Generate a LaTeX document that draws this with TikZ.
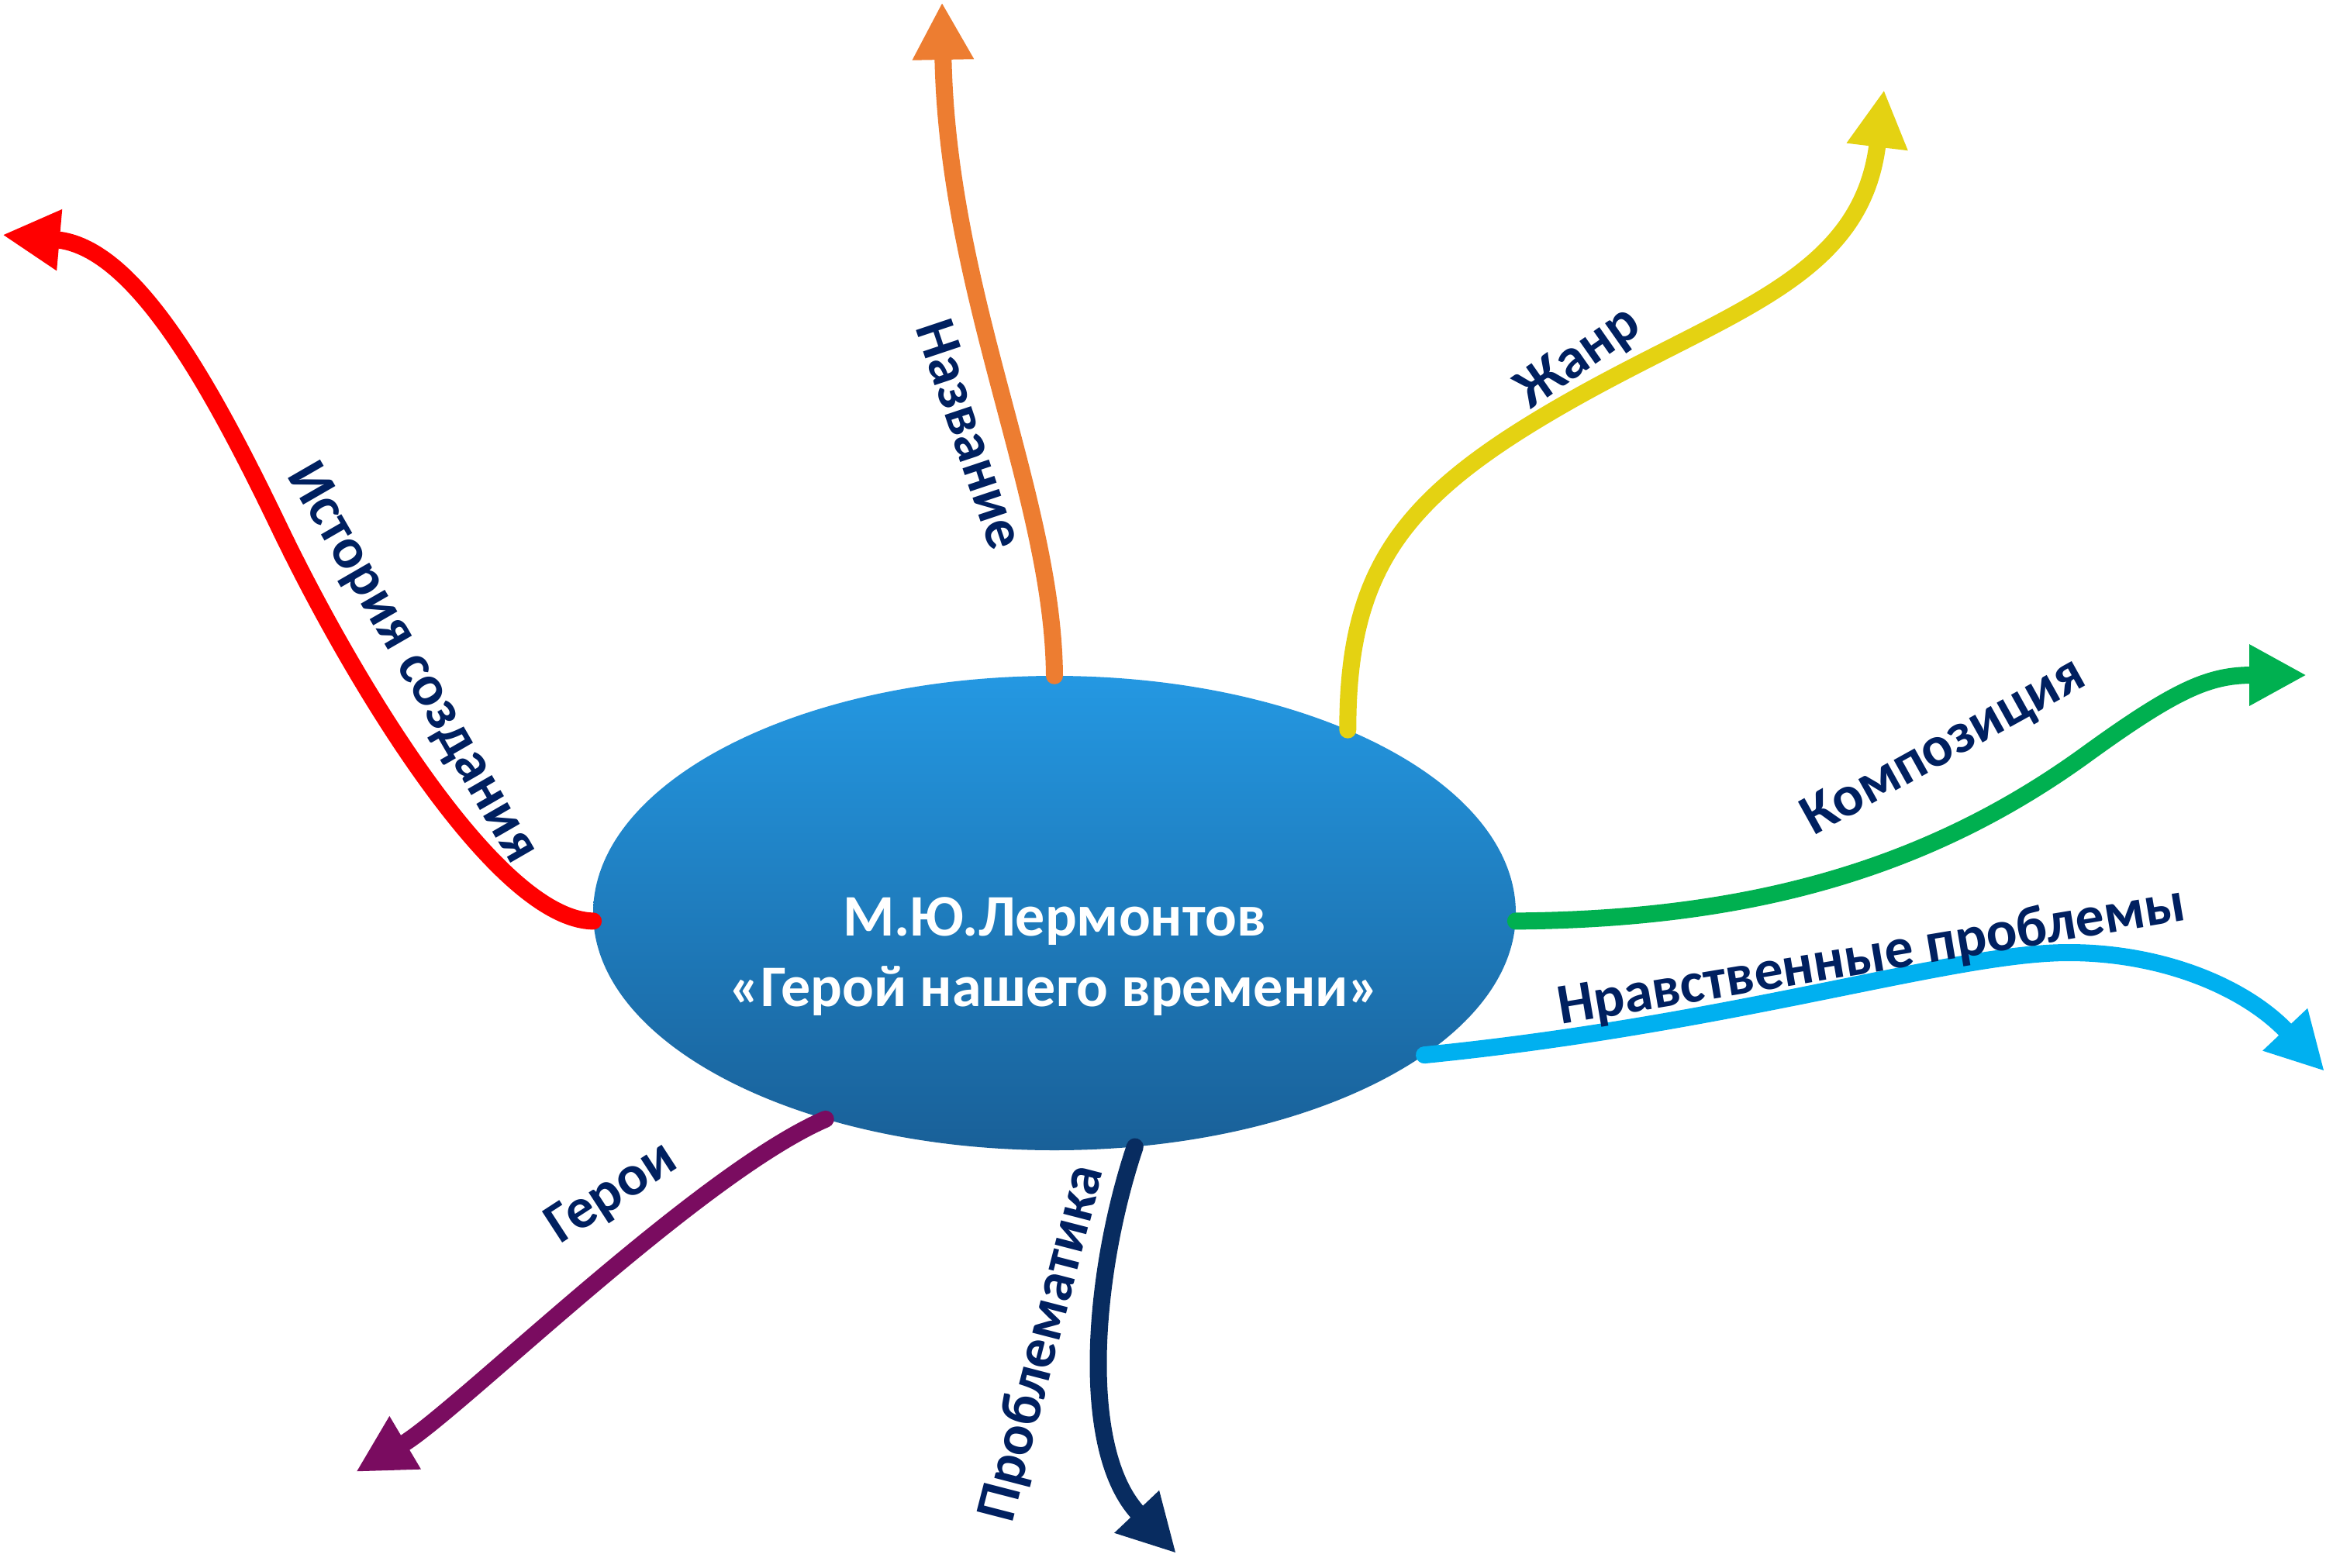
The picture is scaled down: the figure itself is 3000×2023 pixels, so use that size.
\documentclass[tikz,border=0pt]{standalone}
\usepackage{fontspec}
\setmainfont{Carlito}
\usetikzlibrary{arrows.meta,shapes.geometric}
\definecolor{lbl}{RGB}{0,32,96}
\definecolor{cRed}{RGB}{255,0,0}
\definecolor{cOrange}{RGB}{237,125,49}
\definecolor{cYellow}{RGB}{228,210,18}
\definecolor{cGreen}{RGB}{0,176,80}
\definecolor{cSky}{RGB}{0,176,240}
\definecolor{cPurple}{RGB}{122,12,96}
\definecolor{cNavy}{RGB}{8,44,96}
\definecolor{ellTop}{RGB}{36,152,226}
\definecolor{ellBot}{RGB}{25,96,152}
\begin{document}
\begin{tikzpicture}[x=1pt,y=-1pt,
  conn/.style={line width=22pt, line cap=round, -{Triangle[length=74pt,width=74pt]}},
  lab/.style={text=lbl, font=\fontsize{74}{88}\selectfont\bfseries, inner sep=0pt},
  hub/.style={ellipse, minimum width=1190pt, minimum height=612pt, inner sep=0pt,
    top color=ellTop, bottom color=ellBot, draw=none},
  title/.style={text=white, font=\fontsize{76}{91}\selectfont\bfseries, align=center, inner sep=0pt}]
\useasboundingbox (0,0) rectangle (3000,2023);
\fill[white] (0,0) rectangle (3000,2023);
\node[hub] (c) at (1360,1178) {};
\node[title] (t) at (1360,1234) {М.Ю.Лермонтов\\«Герой нашего времени»};
% bends and free ends of the connectors
\coordinate (rM) at (360,680);
\coordinate (rT) at (3,303);
\coordinate (oT) at (1215,3);
\coordinate (yM) at (2006,528);
\coordinate (yT) at (2430,116);
\coordinate (gM) at (2687,976);
\coordinate (gT) at (2975,871);
\coordinate (bM) at (2668,1229);
\coordinate (bT) at (2998,1382);
\coordinate (pT) at (459,1899);
\coordinate (nT) at (1517,2004);
% connectors
\draw[conn, cRed] (c.181) .. controls (640,1186) and (455,878) .. (rM)
  .. controls (265,482) and (170,318) .. (rT);
\draw[conn, cOrange] (c.90) .. controls (1358,640) and (1222,380) .. (oT);
\draw[conn, cYellow] (c.32.5) .. controls (1738,737) and (1807,644) .. (yM)
  .. controls (2222,402) and (2400,364) .. (yT);
\draw[conn, cGreen] (c.-1) .. controls (2255,1186) and (2484,1122) .. (gM)
  .. controls (2808,888) and (2850,871) .. (gT);
\draw[conn, cSky] (c.-21) .. controls (2238,1321) and (2518,1229) .. (bM)
  .. controls (2788,1229) and (2895,1273) .. (bT);
\draw[conn, cPurple] (c.-138) .. controls (900,1515) and (589,1822) .. (pT);
\draw[conn, cNavy] (c.-71.7) .. controls (1410,1640) and (1390,1870) .. (nT);
% labels
\node[lab, rotate=-60] (l1) at (531,856) {История создания};
\node[lab, rotate=-71.5] (l2) at (1252,560) {Название};
\node[lab, rotate=35] (l3) at (2037,463) {Жанр};
\node[lab, rotate=29] (l4) at (2508,965) {Композиция};
\node[lab, rotate=9.5] (l5) at (2414,1235) {Нравственные проблемы};
\node[lab, rotate=33] (l6) at (790,1540) {Герои};
\node[lab, rotate=75.5] (l7) at (1345,1733) {Проблематика};
\end{tikzpicture}
\end{document}
